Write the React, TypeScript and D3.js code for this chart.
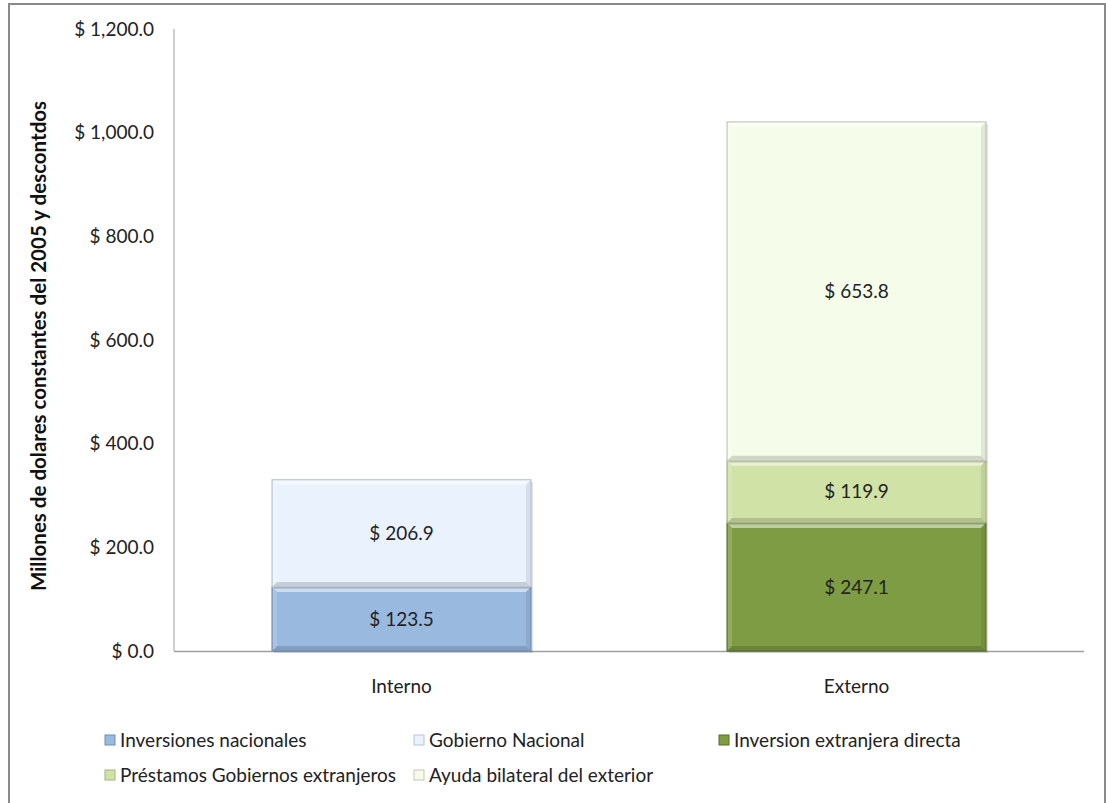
import React from "react";
import * as d3 from "d3";

const categories = ["Interno", "Externo"];
const seriesNames = [
  "Inversiones nacionales",
  "Gobierno Nacional",
  "Inversion extranjera directa",
  "Préstamos Gobiernos extranjeros",
  "Ayuda bilateral del exterior",
];
// values per series for [Interno, Externo]
const inversionesNacionales = [123.5, 0];
const gobiernoNacional = [206.9, 0];
const inversionExtranjera = [0, 247.1];
const prestamosGobiernos = [0, 119.9];
const ayudaBilateral = [0, 653.8];
const yTicks = [0, 200, 400, 600, 800, 1000, 1200];
const colors = ["#9ab9df", "#e9f2fd", "#7e9c43", "#d1e2a7", "#f6fcea"];
const edgeColors = ["#6f8fb8", "#b8c4d2", "#566e28", "#a4b47c", "#c3c8b6"];

const seriesValues = [
  inversionesNacionales,
  gobiernoNacional,
  inversionExtranjera,
  prestamosGobiernos,
  ayudaBilateral,
];

const W = 1106;
const H = 803;
const fontFamily = "Lato, 'Open Sans', 'DejaVu Sans', sans-serif";

export default function App() {
  const plotLeft = 174;
  const plotRight = 1084;
  const y = d3.scaleLinear().domain([0, 1200]).range([651, 29]);
  const x = d3
    .scaleBand()
    .domain(categories)
    .range([plotLeft, plotRight])
    .paddingInner(0.431)
    .paddingOuter(0.2155);
  const fmt = (v: number) => "$ " + d3.format(",.1f")(v);

  const rows = categories.map((c, ci) => {
    const o: any = { cat: c };
    seriesNames.forEach((s, si) => (o[s] = seriesValues[si][ci]));
    return o;
  });
  const stacked = d3.stack().keys(seriesNames)(rows);

  const legendItems = [
    { x: 105, y: 740 },
    { x: 414, y: 740 },
    { x: 719, y: 740 },
    { x: 105, y: 775 },
    { x: 414, y: 775 },
  ];

  const bev = 5;
  const fs = 19;

  return (
    <svg width={W} height={H} style={{ display: "block", position: "absolute", left: 0, top: 0 }}>
      <rect x={0} y={0} width={W} height={H} fill="#ffffff" />
      <rect x={9} y={4} width={1096} height={806} fill="none" stroke="#8a8a8a" strokeWidth={2} />
      <line x1={plotLeft} x2={plotLeft} y1={y(1200)} y2={y(0)} stroke="#a0a0a0" strokeWidth={1} />
      <line x1={plotLeft} x2={plotRight} y1={y(0) + 0.5} y2={y(0) + 0.5} stroke="#a0a0a0" strokeWidth={1.5} />
      {yTicks.map((t) => (
        <text
          key={t}
          x={154}
          y={y(t)}
          dy="0.35em"
          textAnchor="end"
          fontFamily={fontFamily}
          fontSize={fs}
          fill="#222"
        >
          {fmt(t)}
        </text>
      ))}
      <text
        transform={`translate(46,${346}) rotate(-90)`}
        textAnchor="middle"
        fontFamily={fontFamily}
        fontSize={20.5}
        fontWeight="bold"
        fill="#111"
      >
        Millones de dolares constantes del 2005 y descontdos
      </text>
      {stacked.map((layer, si) =>
        layer.map((d, ci) => {
          const v = d[1] - d[0];
          if (v <= 0) return null;
          const cat = categories[ci];
          const x0 = x(cat)!;
          const bw = x.bandwidth();
          const yTop = y(d[1]);
          const yBot = y(d[0]);
          const h = yBot - yTop;
          return (
            <g key={`${si}-${ci}`}>
              <rect x={x0 + 2} y={yTop + 2} width={bw} height={h} fill="#000" opacity={0.12} />
              <rect x={x0} y={yTop} width={bw} height={h} fill={colors[si]} />
              <polygon
                points={`${x0},${yTop} ${x0 + bw},${yTop} ${x0 + bw - bev},${yTop + bev} ${x0 + bev},${yTop + bev}`}
                fill="#ffffff"
                opacity={0.5}
              />
              <polygon
                points={`${x0},${yTop} ${x0 + bev},${yTop + bev} ${x0 + bev},${yBot - bev} ${x0},${yBot}`}
                fill="#ffffff"
                opacity={0.15}
              />
              <polygon
                points={`${x0 + bw},${yTop} ${x0 + bw},${yBot} ${x0 + bw - bev},${yBot - bev} ${x0 + bw - bev},${yTop + bev}`}
                fill="#000"
                opacity={0.08}
              />
              <polygon
                points={`${x0},${yBot} ${x0 + bw},${yBot} ${x0 + bw - bev},${yBot - bev} ${x0 + bev},${yBot - bev}`}
                fill="#000"
                opacity={0.15}
              />
              <rect x={x0} y={yTop} width={bw} height={h} fill="none" stroke={edgeColors[si]} strokeWidth={1.2} />
              <text
                x={x0 + bw / 2}
                y={(yTop + yBot) / 2}
                dy="0.35em"
                textAnchor="middle"
                fontFamily={fontFamily}
                fontSize={fs}
                fill="#222"
              >
                {fmt(v)}
              </text>
            </g>
          );
        })
      )}
      {categories.map((c) => (
        <text
          key={c}
          x={x(c)! + x.bandwidth() / 2}
          y={686}
          dy="0.35em"
          textAnchor="middle"
          fontFamily={fontFamily}
          fontSize={fs}
          fill="#222"
        >
          {c}
        </text>
      ))}
      {seriesNames.map((s, i) => (
        <g key={s}>
          <rect
            x={legendItems[i].x}
            y={legendItems[i].y - 5}
            width={10}
            height={10}
            fill={colors[i]}
            stroke={edgeColors[i]}
            strokeWidth={1}
          />
          <text
            x={legendItems[i].x + 15}
            y={legendItems[i].y}
            dy="0.35em"
            fontFamily={fontFamily}
            fontSize={fs}
            fill="#222"
          >
            {s}
          </text>
        </g>
      ))}
    </svg>
  );
}
